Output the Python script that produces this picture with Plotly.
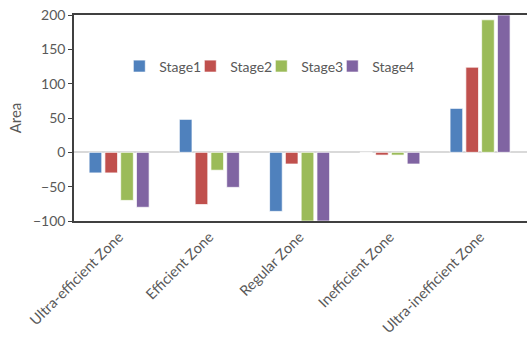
import plotly.graph_objects as go

categories = ["Ultra-efficient Zone", "Efficient Zone", "Regular Zone", "Inefficient Zone", "Ultra-inefficient Zone"]
stage1 = [-30, 48, -86, 0, 64]
stage2 = [-30, -76, -17, -4, 124]
stage3 = [-70, -26, -100, -4, 193]
stage4 = [-80, -51, -100, -17, 200]
series_names = ["Stage1", "Stage2", "Stage3", "Stage4"]
colors = ["#4F81BD", "#C0504D", "#9BBB59", "#8064A2"]
y_ticks = [-100, -50, 0, 50, 100, 150, 200]

fig = go.Figure()
for name, vals, c in zip(series_names, [stage1, stage2, stage3, stage4], colors):
    fig.add_trace(go.Bar(x=categories, y=vals, name=name,
                         marker=dict(color=c, line=dict(color="rgba(255,255,255,0.7)", width=1))))
# hidden spacer legend entry so the last legend label is not clipped
fig.add_trace(go.Scatter(x=[categories[0]], y=[0], mode="markers", name=" ", visible="legendonly",
                         marker=dict(color="rgba(0,0,0,0)"), hoverinfo="skip"))

font = "Lato, 'Open Sans', sans-serif"
fig.update_layout(
    width=527, height=340,
    margin=dict(l=74, r=0, t=15, b=119),
    paper_bgcolor="white", plot_bgcolor="white",
    barmode="group", bargap=0.3, bargroupgap=0.2,
    font=dict(family=font, color="#595959", size=13),
    legend=dict(orientation="h", x=0.1, y=0.75, xanchor="left", yanchor="middle",
                font=dict(size=14, color="#595959"), bgcolor="rgba(0,0,0,0)",
                itemwidth=30, tracegroupgap=0, entrywidth=26, entrywidthmode="pixels"),
    xaxis=dict(range=[-0.5, 4.52], tickangle=-45, showline=True, linecolor="#404040", linewidth=1.5,
               mirror=True, showgrid=False, ticks="", tickfont=dict(size=14.5, color="#595959")),
    yaxis=dict(range=[-100, 200], tickvals=y_ticks, showgrid=False, showline=True,
               linecolor="#404040", linewidth=1.5, mirror=False, ticks="outside", ticklen=4,
               tickcolor="#404040", zeroline=True, zerolinecolor="#D9D9D9", zerolinewidth=1.5,
               tickfont=dict(size=14, color="#595959"),
               title=dict(text="Area", font=dict(size=15, color="#595959"), standoff=8)),
)
fig.write_html("out.html")
